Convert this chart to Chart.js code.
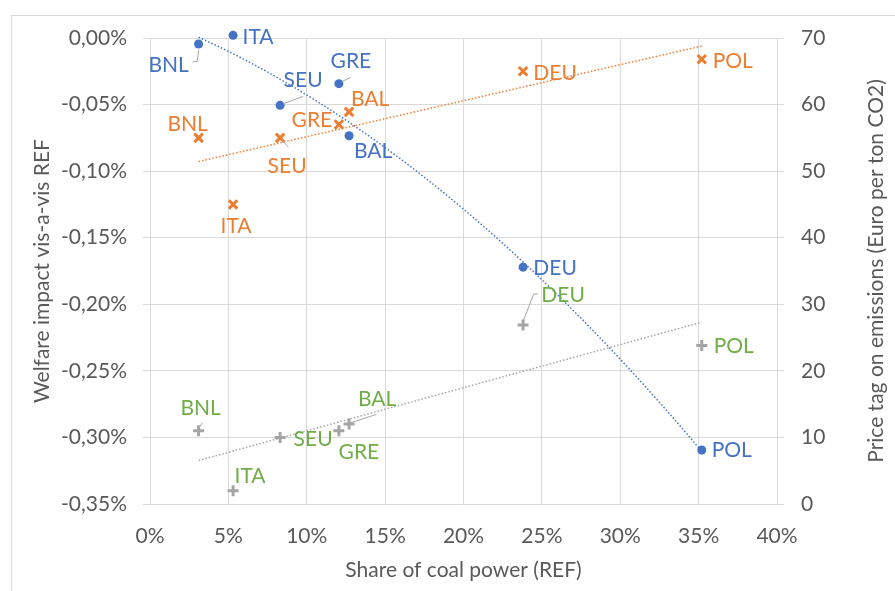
<!DOCTYPE html>
<html>
<head>
<meta charset="utf-8">
<title>Welfare impact vs share of coal power</title>
<script src="https://cdn.jsdelivr.net/npm/chart.js@4.4.1/dist/chart.umd.min.js"></script>
<style>
  html, body { margin: 0; padding: 0; background: #fff; }
  #wrap { width: 895px; height: 591px; }
</style>
</head>
<body>
<div id="wrap"><canvas id="coalChart" width="895" height="591"></canvas></div>
<script>
// --- Data ---
const countries = ["BNL", "ITA", "SEU", "GRE", "BAL", "DEU", "POL"];
const coalShare = [3.1, 5.3, 8.3, 12.05, 12.7, 23.8, 35.2]; // share of coal power in REF, %
const welfareImpact = [-0.0045, 0.002, -0.0506, -0.0343, -0.0734, -0.1721, -0.3094]; // % vs REF
const priceTagCross = [55, 45, 55, 57, 58.9, 65, 66.8]; // Euro per ton CO2
const priceTagPlus = [11, 2, 10, 11, 12, 26.9, 23.8]; // Euro per ton CO2

const xTickValues = [0, 5, 10, 15, 20, 25, 30, 35, 40];
const welfareTickValues = [0, -0.05, -0.1, -0.15, -0.2, -0.25, -0.3, -0.35];
const priceTickValues = [0, 10, 20, 30, 40, 50, 60, 70];

// --- Label placement (pixel offsets from the marker), kept apart from the data ---
const blueLabelPos = [[-30, 21], [25, 2], [23, -25], [12, -22], [24, 16], [32, 1], [30, 0]];
const orangeLabelPos = [[-11, -14], [3, 22], [7, 28], [-27, -4], [21, -13], [32, 2], [31, 2]];
const greenLabelPos = [[2, -23], [17, -14], [33, 2], [20, 21], [28, -25], [40, -30], [32, 1]];

// leader lines: index -> list of relative points
const blueLeaders = { 0: [[0, 6], [-1.4, 17.4], [-6, 18]], 2: [[3, -1.5], [23, -9]], 3: [[3.3, -2.3], [12, -6.3]] };
const orangeLeaders = { 2: [[1.7, 2], [8.3, 9.3]] };
const greenLeaders = { 0: [[1, -4], [4, -8]], 4: [[1.3, -1.3], [27.3, -9.7]], 5: [[0.6, -5], [10.6, -30.7], [14.6, -31]] };

const BLUE = "#4472C4";
const ORANGE = "#ED7D31";
const GRAY = "#A5A5A5";
const GREEN = "#70AD47";
const TEXT = "#595959";
const GRID = "#D9D9D9";
const FONT = "Lato";

Chart.defaults.font.family = FONT;
Chart.defaults.font.size = 21;
Chart.defaults.color = TEXT;

function toPoints(xs, ys) {
  return xs.map((x, i) => ({ x: x, y: ys[i] }));
}

// least squares polynomial fit, returns coefficients for x^0, x^1, ...
function polyFit(xs, ys, deg) {
  const n = deg + 1;
  const A = Array.from({ length: n }, () => new Array(n + 1).fill(0));
  xs.forEach((x, k) => {
    for (let i = 0; i < n; i++) {
      for (let j = 0; j < n; j++) A[i][j] += Math.pow(x, i + j);
      A[i][n] += ys[k] * Math.pow(x, i);
    }
  });
  for (let c = 0; c < n; c++) {
    let p = c;
    for (let r = c + 1; r < n; r++) if (Math.abs(A[r][c]) > Math.abs(A[p][c])) p = r;
    [A[c], A[p]] = [A[p], A[c]];
    for (let r = 0; r < n; r++) {
      if (r === c) continue;
      const f = A[r][c] / A[c][c];
      for (let k = c; k <= n; k++) A[r][k] -= f * A[c][k];
    }
  }
  return A.map((row, i) => row[n] / row[i]);
}

function drawTrend(ctx, xScale, yScale, coef, x0, x1, color) {
  ctx.save();
  ctx.strokeStyle = color;
  ctx.lineWidth = 1.5;
  ctx.setLineDash([1.5, 2]);
  ctx.beginPath();
  const steps = 80;
  for (let s = 0; s <= steps; s++) {
    const x = x0 + ((x1 - x0) * s) / steps;
    const y = coef.reduce((acc, c, i) => acc + c * Math.pow(x, i), 0);
    const px = xScale.getPixelForValue(x);
    const py = yScale.getPixelForValue(y);
    if (s === 0) ctx.moveTo(px, py);
    else ctx.lineTo(px, py);
  }
  ctx.stroke();
  ctx.restore();
}

const decorations = {
  id: "decorations",
  beforeDraw(chart) {
    const ctx = chart.ctx;
    ctx.save();
    ctx.fillStyle = "#fff";
    ctx.fillRect(0, 0, chart.width, chart.height);
    ctx.strokeStyle = GRID;
    ctx.lineWidth = 1;
    ctx.strokeRect(11.5, 15.5, chart.width + 20, chart.height + 20);
    ctx.restore();
  },
  beforeDatasetsDraw(chart) {
    const { ctx, scales } = chart;
    const x0 = Math.min(...coalShare);
    const x1 = Math.max(...coalShare);
    drawTrend(ctx, scales.x, scales.y, polyFit(coalShare, welfareImpact, 2), x0, x1, BLUE);
    drawTrend(ctx, scales.x, scales.y2, polyFit(coalShare, priceTagCross, 1), x0, x1, ORANGE);
    drawTrend(ctx, scales.x, scales.y2, polyFit(coalShare, priceTagPlus, 1), x0, x1, GRAY);
  },
  afterDatasetsDraw(chart) {
    const ctx = chart.ctx;
    const setups = [
      [0, BLUE, blueLabelPos, blueLeaders],
      [1, ORANGE, orangeLabelPos, orangeLeaders],
      [2, GREEN, greenLabelPos, greenLeaders],
    ];
    ctx.save();
    setups.forEach(([dsIndex, color, pos, leaders]) => {
      const meta = chart.getDatasetMeta(dsIndex);
      meta.data.forEach((pt, i) => {
        if (leaders[i]) {
          ctx.strokeStyle = "#A6A6A6";
          ctx.lineWidth = 1;
          ctx.setLineDash([]);
          ctx.beginPath();
          leaders[i].forEach(([lx, ly], k) => {
            if (k === 0) ctx.moveTo(pt.x + lx, pt.y + ly);
            else ctx.lineTo(pt.x + lx, pt.y + ly);
          });
          ctx.stroke();
        }
        ctx.fillStyle = color;
        ctx.font = "21px " + FONT;
        ctx.textAlign = "center";
        ctx.textBaseline = "middle";
        ctx.fillText(countries[i], pt.x + pos[i][0], pt.y + pos[i][1]);
      });
    });
    ctx.restore();
  },
  afterDraw(chart) {
    // right-hand axis title reads bottom-to-top, like the left one
    const ctx = chart.ctx;
    const area = chart.chartArea;
    ctx.save();
    ctx.translate(876, (area.top + area.bottom) / 2);
    ctx.rotate(-Math.PI / 2);
    ctx.fillStyle = TEXT;
    ctx.font = "21px " + FONT;
    ctx.textAlign = "center";
    ctx.textBaseline = "middle";
    ctx.fillText("Price tag on emissions (Euro per ton CO2)", 0, 0);
    ctx.restore();
  },
};

const ctx = document.getElementById("coalChart").getContext("2d");
const coalChart = new Chart(ctx, {
  type: "scatter",
  data: {
    datasets: [
      {
        label: "Welfare impact",
        data: toPoints(coalShare, welfareImpact),
        yAxisID: "y",
        clip: false,
        pointStyle: "circle",
        pointRadius: 4.5,
        backgroundColor: BLUE,
        borderColor: BLUE,
        borderWidth: 0,
      },
      {
        label: "Price tag (x)",
        data: toPoints(coalShare, priceTagCross),
        yAxisID: "y2",
        clip: false,
        pointStyle: "crossRot",
        pointRadius: 6,
        borderColor: ORANGE,
        backgroundColor: ORANGE,
        borderWidth: 3,
      },
      {
        label: "Price tag (+)",
        data: toPoints(coalShare, priceTagPlus),
        yAxisID: "y2",
        clip: false,
        pointStyle: "cross",
        pointRadius: 5.5,
        borderColor: GRAY,
        backgroundColor: GRAY,
        borderWidth: 3,
      },
    ],
  },
  options: {
    responsive: false,
    animation: false,
    devicePixelRatio: 1,
    layout: { padding: { top: 38, left: 0, right: 0, bottom: 0 } },
    plugins: {
      legend: { display: false },
      tooltip: { enabled: false },
    },
    scales: {
      x: {
        type: "linear",
        position: "bottom",
        min: 0,
        max: 40,
        afterBuildTicks: (scale) => { scale.ticks = xTickValues.map((v) => ({ value: v })); },
        afterFit: (scale) => { scale.height = 87; },
        ticks: {
          padding: 20,
          color: TEXT,
          callback: (v) => v + "%",
        },
        grid: { color: GRID, lineWidth: 1, drawTicks: false },
        border: { display: false },
        title: {
          display: true,
          text: "Share of coal power (REF)",
          color: TEXT,
          padding: { top: 0, bottom: 8 },
        },
      },
      y: {
        type: "linear",
        position: "left",
        min: -0.35,
        max: 0,
        afterBuildTicks: (scale) => { scale.ticks = welfareTickValues.map((v) => ({ value: v })); },
        afterFit: (scale) => { scale.width = 150; },
        ticks: {
          padding: 16,
          color: TEXT,
          callback: (v) => (Math.abs(v) < 1e-9 ? 0 : v).toFixed(2).replace(".", ",") + "%",
        },
        grid: { color: GRID, lineWidth: 1, tickLength: 7 },
        border: { display: false },
        title: {
          display: true,
          text: "Welfare impact vis-a-vis REF",
          color: TEXT,
          padding: { top: 30, bottom: 0 },
        },
      },
      y2: {
        type: "linear",
        position: "right",
        min: 0,
        max: 70,
        afterBuildTicks: (scale) => { scale.ticks = priceTickValues.map((v) => ({ value: v })); },
        afterFit: (scale) => { scale.width = 118; },
        ticks: { padding: 17, color: TEXT },
        grid: { color: GRID, lineWidth: 1, tickLength: 7, drawOnChartArea: false },
        border: { display: false },
      },
    },
  },
  plugins: [decorations],
});
</script>
</body>
</html>
